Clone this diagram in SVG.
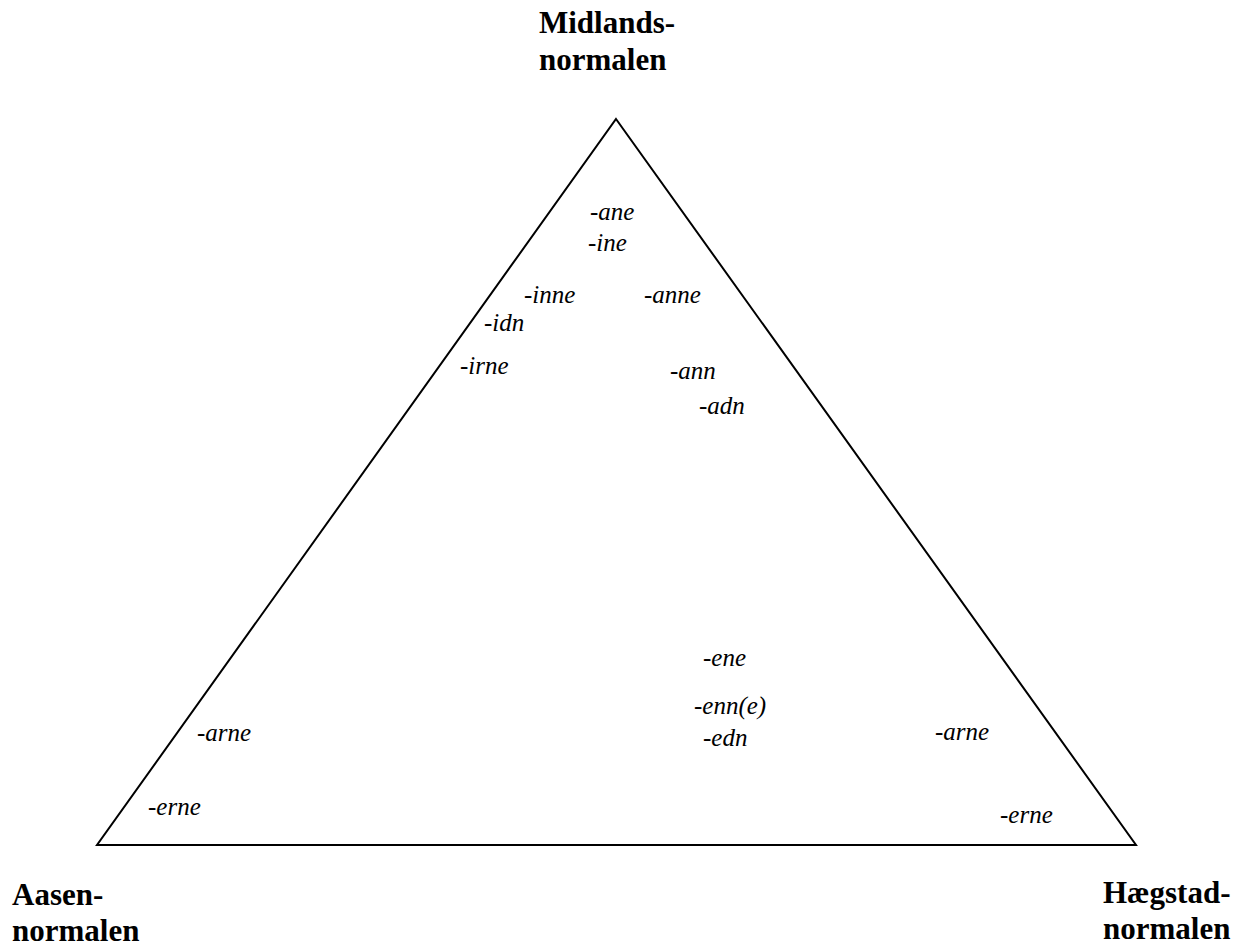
<svg xmlns="http://www.w3.org/2000/svg" width="1246" height="950" viewBox="0 0 1246 950">
<style>
.lbl{font-family:"Liberation Serif","Times New Roman",serif;font-weight:bold;font-size:31px;fill:#000}
.suf{font-family:"Liberation Serif","Times New Roman",serif;font-style:italic;font-size:25px;fill:#000}
.edge{fill:none;stroke:#000;stroke-width:2}
</style>
<rect width="1246" height="950" fill="#fff"/>
<g id="connectors">
<polygon class="edge" points="616,119 1136,845 97,845"/>
</g>
<g id="midlands"><text class="lbl" x="539" y="33">Midlands-</text><text class="lbl" x="539" y="70">normalen</text></g>
<g id="aasen"><text class="lbl" x="12" y="905">Aasen-</text><text class="lbl" x="12" y="941">normalen</text></g>
<g id="haegstad"><text class="lbl" x="1103" y="903">Hægstad-</text><text class="lbl" x="1103" y="939">normalen</text></g>
<g id="suffixes">
<text class="suf" x="590" y="220">-ane</text>
<text class="suf" x="588" y="251">-ine</text>
<text class="suf" x="524" y="303">-inne</text>
<text class="suf" x="644" y="303">-anne</text>
<text class="suf" x="484" y="331">-idn</text>
<text class="suf" x="460" y="374">-irne</text>
<text class="suf" x="670" y="379">-ann</text>
<text class="suf" x="699" y="414">-adn</text>
<text class="suf" x="703" y="666">-ene</text>
<text class="suf" x="694" y="714">-enn(e)</text>
<text class="suf" x="703" y="746">-edn</text>
<text class="suf" x="197" y="741">-arne</text>
<text class="suf" x="148" y="815">-erne</text>
<text class="suf" x="935" y="740">-arne</text>
<text class="suf" x="1000" y="823">-erne</text>
</g>
</svg>
